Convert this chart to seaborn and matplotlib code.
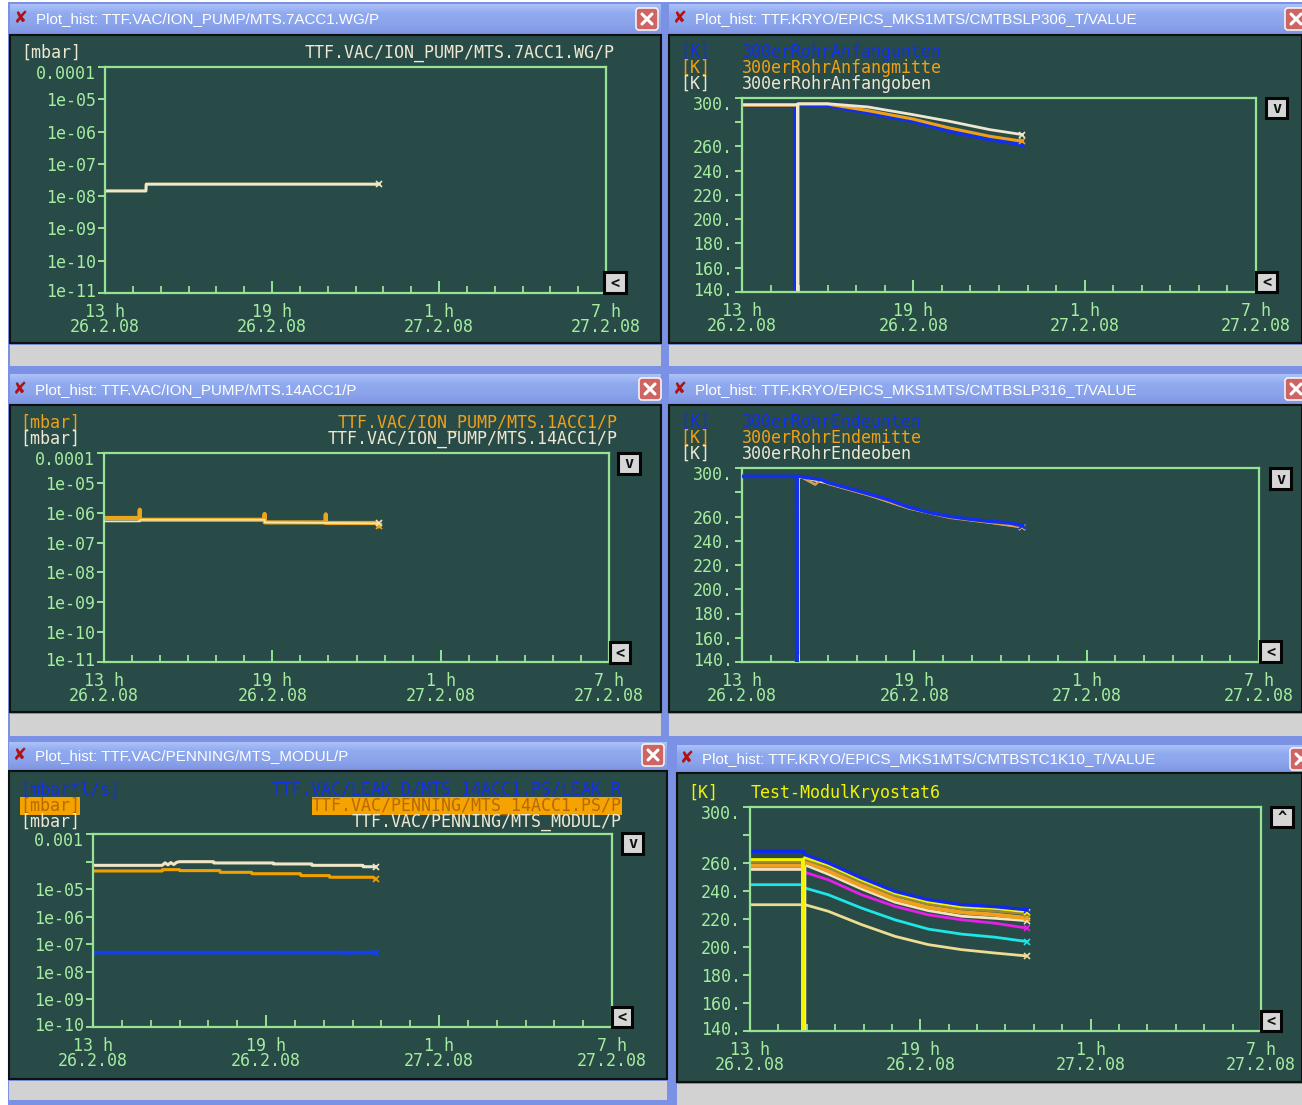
import numpy as np
import matplotlib
matplotlib.use("Agg")
import matplotlib.pyplot as plt
from matplotlib.patches import Rectangle, FancyBboxPatch
from matplotlib.ticker import FixedLocator, LogLocator, NullFormatter
from matplotlib.transforms import ScaledTranslation
from matplotlib.colors import LinearSegmentedColormap
import seaborn as sns

# ------------------------------------------------------------------ data
hour_ticks = [0, 6, 12, 18]
hour_labels = ["13 h\n26.2.08", "19 h\n26.2.08", "1 h\n27.2.08", "7 h\n27.2.08"]
minor_hours = [1, 2, 3, 4, 5, 7, 8, 9, 10, 11, 13, 14, 15, 16, 17]

log_ticks_1 = [1e-11, 1e-10, 1e-9, 1e-8, 1e-7, 1e-6, 1e-5, 1e-4]
log_labels_1 = ["1e-11", "1e-10", "1e-09", "1e-08", "1e-07", "1e-06", "1e-05", "0.0001"]
log_ticks_5 = [1e-10, 1e-9, 1e-8, 1e-7, 1e-6, 1e-5, 1e-4, 1e-3]
log_labels_5 = ["1e-10", "1e-09", "1e-08", "1e-07", "1e-06", "1e-05", "", "0.001"]
temp_ticks = [140, 160, 180, 200, 220, 240, 260, 280, 300]
temp_labels = ["140.", "160.", "180.", "200.", "220.", "240.", "260.", "", "300."]

# panel 1: TTF.VAC/ION_PUMP/MTS.7ACC1.WG/P
p1_t = [0, 1.47, 1.48, 9.85]
p1_v = [1.45e-8, 1.45e-8, 2.35e-8, 2.35e-8]

# panel 2: 300erRohrAnfang unten / mitte / oben
p2_blue_t = [0, 1.87, 1.875, 1.88, 1.99, 2.99, 4.41, 5.98, 7.26, 8.68, 9.82]
p2_blue_v = [293.1, 293.1, 0, 293.1, 294.5, 293.7, 287.6, 280.8, 272.5, 265.6, 261.5]
p2_orange_t = [0, 1.85, 1.99, 2.99, 4.41, 5.98, 7.26, 8.68, 9.82]
p2_orange_v = [294.0, 294.0, 295.0, 295.0, 289.6, 282.7, 275.3, 268.4, 264.3]
p2_white_t = [0, 1.95, 1.955, 1.96, 1.99, 2.99, 4.41, 5.98, 7.26, 8.68, 9.82]
p2_white_v = [294.5, 294.5, 0, 295.3, 295.3, 295.3, 292.6, 286.3, 280.8, 273.9, 269.8]

# panel 3: MTS.1ACC1/P (orange), MTS.14ACC1/P (white)
p3_orange_t = [0, 1.27, 1.275, 1.28, 5.72, 5.725, 5.73, 7.9, 7.905, 7.91, 9.7, 9.8]
p3_orange_v = [6.65e-7, 6.65e-7, 1.26e-6, 5.8e-7, 5.8e-7, 9.1e-7, 4.74e-7, 4.74e-7,
               8.8e-7, 4.53e-7, 4.53e-7, 3.6e-7]
p3_white_t = [0, 1.28, 1.29, 5.72, 5.73, 9.8]
p3_white_v = [5.13e-7, 5.13e-7, 5.8e-7, 5.8e-7, 4.74e-7, 4.4e-7]

# panel 4: 300erRohrEnde unten / mitte / oben
p4_blue_t = [0, 1.9, 1.905, 1.91, 2.05, 2.12, 2.76, 2.97, 3.68, 4.39, 5.09, 5.8, 6.51,
             7.22, 7.92, 8.63, 9.34, 9.76]
p4_blue_v = [293.1, 293.1, 0, 293.1, 293.1, 292.6, 290.4, 288.2, 283.5, 278.8, 273.9,
             267.8, 263.4, 260.1, 257.9, 256.0, 254.6, 252.4]
p4_orange_t = [0, 2.05, 2.12, 2.55, 2.76, 2.97, 4.39, 5.8, 7.22, 8.63, 9.76]
p4_orange_v = [292.8, 292.8, 291.8, 286.3, 290.9, 287.1, 277.7, 266.7, 259.0, 254.9, 251.1]
p4_white_t = [0, 1.95, 1.955, 1.96, 2.12, 2.97, 4.39, 5.8, 7.22, 8.63, 9.76]
p4_white_v = [292.8, 292.8, 0, 292.5, 292.0, 287.5, 278.0, 267.0, 259.5, 255.2, 251.5]

# panel 5: LEAK_R (blue), PENNING 14ACC1 (orange), PENNING MODUL (white)
p5_white_t = [0, 2.4, 2.5, 2.6, 2.7, 2.8, 2.9, 3.0, 4.18, 4.19, 6.25, 6.26, 7.59, 7.6,
              9.36, 9.37, 9.8]
p5_white_v = [7.3e-5, 7.3e-5, 9.0e-5, 7.6e-5, 9.2e-5, 7.8e-5, 9.4e-5, 9.9e-5, 9.9e-5,
              8.9e-5, 8.9e-5, 8.2e-5, 8.2e-5, 7.3e-5, 7.3e-5, 6.5e-5, 6.5e-5]
p5_orange_t = [0, 2.4, 2.41, 3.0, 3.01, 4.4, 4.41, 5.5, 5.51, 7.2, 7.21, 8.2, 8.21, 9.7, 9.8]
p5_orange_v = [4.55e-5, 4.55e-5, 5.1e-5, 5.1e-5, 4.7e-5, 4.7e-5, 4.07e-5, 4.07e-5,
               3.63e-5, 3.63e-5, 3.1e-5, 3.1e-5, 2.7e-5, 2.7e-5, 2.34e-5]
p5_blue_t = [0, 8.8, 8.84, 8.88, 9.8]
p5_blue_v = [5.0e-8, 5.0e-8, 4.6e-8, 5.0e-8, 5.0e-8]

# panel 6: Test-ModulKryostat6 (several sensors)
p6_t = [0, 1.88, 1.94, 2.76, 3.93, 5.11, 6.28, 7.46, 8.63, 9.75]
p6_khaki_v = [230.2, 230.2, 230.2, 225.5, 216.0, 207.6, 201.7, 198.1, 195.7, 193.6]
p6_cyan_v = [244.5, 244.5, 242.1, 237.3, 227.8, 219.4, 212.8, 209.2, 207.0, 203.9]
p6_magenta_v = [256.8, 256.8, 253.3, 248.0, 237.3, 229.0, 223.0, 219.4, 217.0, 213.5]
p6_orange_v = [258.1, 258.1, 261.1, 254.5, 243.8, 234.3, 228.3, 224.8, 223.1, 220.7]
p6_olive_v = [260.5, 260.5, 262.5, 256.5, 246.0, 236.5, 230.5, 227.0, 225.5, 223.5]
p6_blue_v = [268.3, 268.3, 265.9, 260.0, 249.3, 239.7, 233.8, 230.2, 228.8, 226.6]
p6_yellow_t = [0, 1.86, 1.865, 1.87, 1.94, 2.76, 3.93, 5.11, 6.28, 7.46, 8.63, 9.75]
p6_yellow_v = [262.4, 262.4, 0, 262.4, 264.0, 258.6, 247.9, 238.4, 232.4, 228.8, 227.6, 225.2]
p6_cream_t = [0, 1.88, 1.93, 1.935, 1.94, 2.76, 3.93, 5.11, 6.28, 7.46, 8.63, 9.75]
p6_cream_v = [255.4, 255.4, 0, 258.6, 258.6, 252.0, 241.5, 232.0, 226.0, 222.0, 220.5, 218.8]

# ------------------------------------------------------------------ style
W, H = 1302, 1105
DARK = "#284b47"
AXC = "#98e294"
TXC = "#a6eca0"
FRAME = "#7a91e4"
GRAY = "#d2d2d2"
BLUE = "#1230ea"
ORANGE = "#f0a018"
WHITE = "#eee8d2"
YELLOW = "#f4f400"

plt.rcParams["font.family"] = ["DejaVu Sans Mono", "DejaVu Sans"]
TITLE_FONT = ["Liberation Sans", "DejaVu Sans"]
MONO = 12

fig = plt.figure(figsize=(W / 100, H / 100), dpi=100, facecolor="white")

bg = fig.add_axes([0, 0, 1, 1], zorder=0)
bg.axis("off")

fg = fig.add_axes([0, 0, 1, 1], zorder=10)
fg.set_xlim(0, W)
fg.set_ylim(H, 0)
fg.axis("off")
fg.patch.set_alpha(0)

bg.add_patch(Rectangle((8, 2), W - 8, H - 2, facecolor=FRAME, edgecolor="none"))

windows = [
    dict(title=(10, 4, 661, 33), dark=(10, 35, 661, 343), gray=(10, 345, 661, 366),
         tx=36, ty=18, ix=21, close=(636, 8, 658, 30),
         text="Plot_hist: TTF.VAC/ION_PUMP/MTS.7ACC1.WG/P"),
    dict(title=(669, 4, 1302, 33), dark=(669, 35, 1302, 343), gray=(669, 345, 1302, 366),
         tx=695, ty=18, ix=680, close=(1285, 8, 1307, 30),
         text="Plot_hist: TTF.KRYO/EPICS_MKS1MTS/CMTBSLP306_T/VALUE"),
    dict(title=(10, 374, 661, 403), dark=(10, 405, 661, 712), gray=(10, 714, 661, 736),
         tx=35, ty=389, ix=20, close=(639, 378, 661, 400),
         text="Plot_hist: TTF.VAC/ION_PUMP/MTS.14ACC1/P"),
    dict(title=(669, 374, 1302, 403), dark=(669, 405, 1302, 712), gray=(669, 714, 1302, 736),
         tx=695, ty=389, ix=680, close=(1285, 378, 1307, 400),
         text="Plot_hist: TTF.KRYO/EPICS_MKS1MTS/CMTBSLP316_T/VALUE"),
    dict(title=(9, 742, 667, 769), dark=(9, 771, 667, 1079), gray=(9, 1081, 667, 1100),
         tx=35, ty=755, ix=20, close=(642, 744, 664, 766),
         text="Plot_hist: TTF.VAC/PENNING/MTS_MODUL/P"),
    dict(title=(677, 745, 1302, 771), dark=(677, 773, 1302, 1082), gray=(677, 1084, 1302, 1105),
         tx=702, ty=758, ix=687, close=(1290, 748, 1312, 770),
         text="Plot_hist: TTF.KRYO/EPICS_MKS1MTS/CMTBSTC1K10_T/VALUE"),
]

grad = np.linspace(0, 1, 64).reshape(-1, 1)
tb_cmap = LinearSegmentedColormap.from_list("tb", ["#abc1f8", "#90aaef", "#8ba4eb", "#8098e3"])

for w in windows:
    x0, y0, x1, y1 = w["title"]
    bg.imshow(grad, cmap=tb_cmap, extent=(x0, x1, y1, y0), aspect="auto", zorder=1)
    x0, y0, x1, y1 = w["dark"]
    bg.add_patch(Rectangle((x0, y0), x1 - x0, y1 - y0, facecolor=DARK, edgecolor="#101010",
                           lw=1.5, zorder=2))
    x0, y0, x1, y1 = w["gray"]
    bg.add_patch(Rectangle((x0, y0), x1 - x0, y1 - y0, facecolor=GRAY, edgecolor="none", zorder=2))
    bg.text(w["ix"], w["ty"], "\u2718", color="#b41010", fontsize=12, ha="center", va="center",
            family="DejaVu Sans", zorder=3)
    bg.text(w["tx"], w["ty"] + 1, w["text"], color="white", fontsize=10.9, ha="left",
            va="center", family=TITLE_FONT, zorder=3)
    cx0, cy0, cx1, cy1 = w["close"]
    bg.add_patch(FancyBboxPatch((cx0, cy0), cx1 - cx0, cy1 - cy0,
                                boxstyle="round,pad=0,rounding_size=3",
                                facecolor="#cf6464", edgecolor="#f4f4f4", lw=1.2, zorder=3))
    bg.plot([cx0 + 6, cx1 - 6], [cy0 + 6, cy1 - 6], color="white", lw=2.2, zorder=4,
            solid_capstyle="round")
    bg.plot([cx0 + 6, cx1 - 6], [cy1 - 6, cy0 + 6], color="white", lw=2.2, zorder=4,
            solid_capstyle="round")

bg.set_xlim(0, W)
bg.set_ylim(H, 0)


def px_rect(x0, y0, x1, y1):
    return [x0 / W, 1 - y1 / H, (x1 - x0) / W, (y1 - y0) / H]


def make_axes(box, log, ylim, yticks, ylabels):
    ax = fig.add_axes(px_rect(*box), zorder=5)
    ax.set_facecolor("none")
    if log:
        ax.set_yscale("log")
    ax.set_xlim(0, 18)
    ax.set_ylim(*ylim)
    for s in ax.spines.values():
        s.set_color(AXC)
        s.set_linewidth(1.6)
    ax.set_xticks(hour_ticks)
    ax.set_xticklabels(hour_labels)
    ax.xaxis.set_minor_locator(FixedLocator(minor_hours))
    ax.tick_params(axis="x", which="major", direction="in", length=9, width=1.4, color=AXC,
                   labelcolor=TXC, labelsize=MONO, pad=7)
    ax.tick_params(axis="x", which="minor", direction="in", length=5, width=1.3, color=AXC)
    ax.set_yticks(yticks)
    ax.set_yticklabels(ylabels)
    if log:
        ax.yaxis.set_minor_locator(LogLocator(base=10, subs=np.arange(2, 10)))
        ax.yaxis.set_minor_formatter(NullFormatter())
        ax.tick_params(axis="y", which="minor", direction="in", length=2.5, width=1.0, color=AXC)
    else:
        ax.yaxis.set_minor_locator(FixedLocator([]))
    ax.tick_params(axis="y", which="major", direction="out", length=5, width=1.4, color=AXC,
                   labelcolor=TXC, labelsize=MONO, pad=1.5)
    for lab in ax.get_xticklabels():
        lab.set_linespacing(0.82)
    ylabs = ax.get_yticklabels()
    ylabs[-1].set_transform(ylabs[-1].get_transform()
                            + ScaledTranslation(0, -5 / 100, fig.dpi_scale_trans))
    ylabs[0].set_transform(ylabs[0].get_transform()
                           + ScaledTranslation(0, 3 / 100, fig.dpi_scale_trans))
    ax.set_xlabel("")
    ax.set_ylabel("")
    return ax


def draw(ax, t, v, color, lw=2.0, z=2):
    sns.lineplot(x=t, y=v, ax=ax, color=color, linewidth=lw, estimator=None, sort=False,
                 legend=False, zorder=z, marker="x", markevery=[len(t) - 1], markersize=5,
                 markeredgewidth=1.2, markeredgecolor=color)
    ax.set_xlabel("")
    ax.set_ylabel("")


def button(x0, y0, x1, y1, sym):
    fg.add_patch(Rectangle((x0, y0), x1 - x0, y1 - y0, facecolor="#d6d6d6", edgecolor="#050505",
                           lw=2.2, zorder=11))
    fg.text((x0 + x1) / 2, (y0 + y1) / 2 + 0.5, sym, ha="center", va="center", fontsize=11,
            fontweight="bold", color="#101010", zorder=12, clip_on=True)


def label(x, y, s, color, ha="left", **kw):
    bg.text(x, y, s, color=color, fontsize=MONO, ha=ha, va="center", zorder=3, **kw)


# ---- panel 1
ax1 = make_axes((105, 67, 606, 293), True, (1e-11, 1e-4), log_ticks_1, log_labels_1)
draw(ax1, p1_t, p1_v, "#f2e8c4", lw=2.2)
label(21, 53, "[mbar]", WHITE)
label(615, 53, "TTF.VAC/ION_PUMP/MTS.7ACC1.WG/P", WHITE, ha="right")
button(604, 272, 626, 293, "<")

# ---- panel 2
ax2 = make_axes((742, 98, 1256, 292), False, (140, 300), temp_ticks, temp_labels)
draw(ax2, p2_blue_t, p2_blue_v, BLUE, lw=2.6)
draw(ax2, p2_orange_t, p2_orange_v, ORANGE, lw=2.2)
draw(ax2, p2_white_t, p2_white_v, WHITE, lw=2.0)
for i, (c, name) in enumerate([(BLUE, "300erRohrAnfangunten"), (ORANGE, "300erRohrAnfangmitte"),
                               (WHITE, "300erRohrAnfangoben")]):
    label(680, 52 + 16 * i, "[K]", c)
    label(742, 52 + 16 * i, name, c)
button(1266, 98, 1287, 118, "v")
button(1256, 272, 1277, 292, "<")

# ---- panel 3
ax3 = make_axes((104, 453, 609, 662), True, (1e-11, 1e-4), log_ticks_1, log_labels_1)
draw(ax3, p3_orange_t, p3_orange_v, "#eca41c", lw=3.0)
draw(ax3, p3_white_t, p3_white_v, "#f6e6a8", lw=1.3, z=3)
label(20, 423, "[mbar]", ORANGE)
label(20, 439, "[mbar]", WHITE)
label(618, 423, "TTF.VAC/ION_PUMP/MTS.1ACC1/P", ORANGE, ha="right")
label(618, 439, "TTF.VAC/ION_PUMP/MTS.14ACC1/P", WHITE, ha="right")
button(618, 453, 640, 474, "v")
button(610, 642, 630, 663, "<")

# ---- panel 4
ax4 = make_axes((742, 468, 1259, 662), False, (140, 300), temp_ticks, temp_labels)
draw(ax4, p4_white_t, p4_white_v, WHITE, lw=1.8)
draw(ax4, p4_orange_t, p4_orange_v, "#d8a050", lw=1.8)
draw(ax4, p4_blue_t, p4_blue_v, BLUE, lw=2.6, z=3)
for i, (c, name) in enumerate([(BLUE, "300erRohrEndeunten"), (ORANGE, "300erRohrEndemitte"),
                               (WHITE, "300erRohrEndeoben")]):
    label(680, 422 + 16 * i, "[K]", c)
    label(742, 422 + 16 * i, name, c)
button(1270, 468, 1291, 489, "v")
button(1260, 641, 1281, 662, "<")

# ---- panel 5
ax5 = make_axes((93, 834, 612, 1027), True, (1e-10, 1e-3), log_ticks_5, log_labels_5)
draw(ax5, p5_white_t, p5_white_v, "#f0e6c6", lw=2.2)
draw(ax5, p5_orange_t, p5_orange_v, "#f0a000", lw=2.2)
draw(ax5, p5_blue_t, p5_blue_v, "#1040f4", lw=2.6)
hl = dict(facecolor="#f5a300", edgecolor="none", pad=0.3)
label(20, 790, "[mbar*l/s]", BLUE)
label(20, 806, "[mbar]", "#b86a00", bbox=hl)
label(20, 822, "[mbar]", WHITE)
label(622, 790, "TTF.VAC/LEAK_D/MTS_14ACC1.PS/LEAK_R", BLUE, ha="right")
label(622, 806, "TTF.VAC/PENNING/MTS_14ACC1.PS/P", "#b86a00", ha="right", bbox=hl)
label(622, 822, "TTF.VAC/PENNING/MTS_MODUL/P", WHITE, ha="right")
button(622, 833, 643, 854, "v")
button(612, 1007, 632, 1027, "<")

# ---- panel 6
ax6 = make_axes((750, 807, 1261, 1031), False, (140, 300), temp_ticks, temp_labels)
draw(ax6, p6_t, p6_khaki_v, "#eedc92", lw=2.0)
draw(ax6, p6_t, p6_cyan_v, "#1ee6e6", lw=2.0)
draw(ax6, p6_t, p6_magenta_v, "#e61ee6", lw=2.0)
draw(ax6, p6_cream_t, p6_cream_v, "#f2e4bc", lw=2.0)
draw(ax6, p6_t, p6_orange_v, "#f0a020", lw=3.0)
draw(ax6, p6_t, p6_olive_v, "#9a8a3a", lw=1.6)
draw(ax6, p6_yellow_t, p6_yellow_v, YELLOW, lw=2.2)
draw(ax6, p6_t, p6_blue_v, "#1028f0", lw=2.4)
label(688, 793, "[K]", YELLOW)
label(751, 793, "Test-ModulKryostat6", YELLOW)
button(1271, 807, 1293, 827, "^")
button(1261, 1011, 1281, 1031, "<")

fig.savefig("out.png", dpi=100, facecolor=fig.get_facecolor())
